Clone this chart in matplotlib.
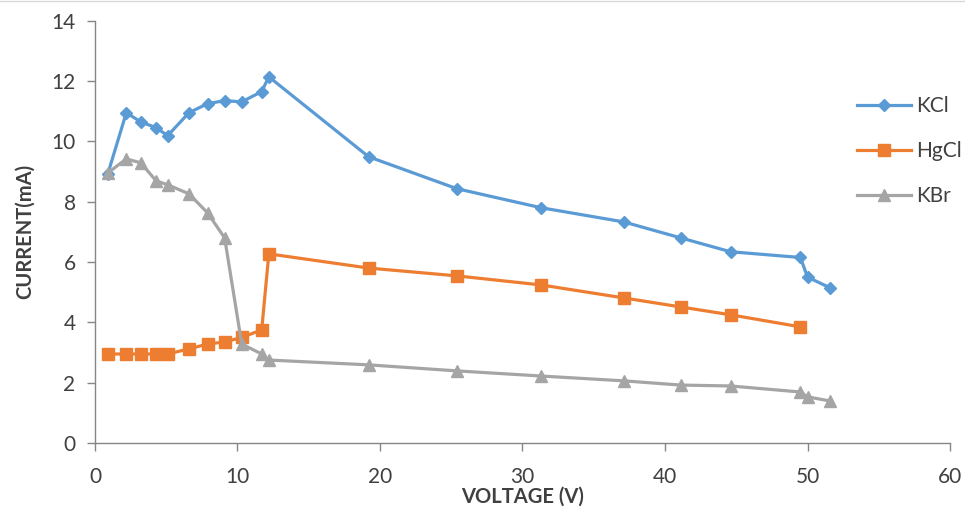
import matplotlib
matplotlib.use("Agg")
import matplotlib.pyplot as plt
from matplotlib.lines import Line2D

voltage = [0.9, 2.2, 3.2, 4.3, 5.1, 6.6, 7.9, 9.1, 10.3, 11.7, 12.2, 19.2, 25.4, 31.3, 37.1, 41.1, 44.6, 49.5, 50.0, 51.6]
kcl = [8.92, 10.95, 10.65, 10.45, 10.19, 10.95, 11.25, 11.35, 11.31, 11.65, 12.14, 9.49, 8.43, 7.80, 7.33, 6.80, 6.34, 6.15, 5.50, 5.14]
hgcl_voltage = voltage[:18]
hgcl = [2.95, 2.95, 2.95, 2.95, 2.95, 3.12, 3.28, 3.35, 3.50, 3.75, 6.27, 5.80, 5.54, 5.24, 4.81, 4.51, 4.25, 3.85]
kbr = [8.95, 9.42, 9.29, 8.69, 8.56, 8.26, 7.63, 6.80, 3.28, 2.95, 2.75, 2.59, 2.39, 2.22, 2.06, 1.92, 1.89, 1.69, 1.53, 1.39]

x_ticks = [0, 10, 20, 30, 40, 50, 60]
y_ticks = [0, 2, 4, 6, 8, 10, 12, 14]

plt.rcParams['font.family'] = ['Lato', 'DejaVu Sans']

fig = plt.figure(figsize=(9.65, 5.13), dpi=100)
ax = fig.add_axes([0.0984, 0.1365, 0.9845 - 0.0984, 0.9596 - 0.1365])

c_kcl = '#5B9BD5'
c_hg = '#ED7D31'
c_kbr = '#A5A5A5'

ax.plot(voltage, kcl, color=c_kcl, lw=2.3, marker='D', ms=6.5, label='KCl', zorder=3)
ax.plot(hgcl_voltage, hgcl, color=c_hg, lw=2.3, marker='s', ms=8, label='HgCl', zorder=3)
ax.plot(voltage, kbr, color=c_kbr, lw=2.3, marker='^', ms=8.5, label='KBr', zorder=3)

ax.set_xlim(0, 60)
ax.set_ylim(0, 14)
ax.set_xticks(x_ticks)
ax.set_yticks(y_ticks)

for s in ['top', 'right']:
    ax.spines[s].set_visible(False)
for s in ['left', 'bottom']:
    ax.spines[s].set_color('#868686')
    ax.spines[s].set_linewidth(1.0)
ax.tick_params(axis='both', colors='#868686', length=6, width=1.0, labelcolor='#404040', labelsize=15)
ax.tick_params(axis='x', pad=11)
ax.tick_params(axis='y', pad=8)

ax.set_xlabel('VOLTAGE (V)', fontsize=14.5, fontweight='bold', color='#404040', labelpad=0)
ax.set_ylabel('CURRENT(mA)', fontsize=14.5, fontweight='bold', color='#404040', labelpad=12)

leg = fig.legend(loc='upper left', bbox_to_anchor=(0.888, 0.812), frameon=False,
                 fontsize=15, handlelength=2.6, labelspacing=1.2, handletextpad=0.25,
                 labelcolor='#404040', borderaxespad=0, borderpad=0)

fig.add_artist(Line2D([0, 1], [0.999, 0.999], transform=fig.transFigure, color='#D9D9D9', lw=1))

fig.savefig('out.png', dpi=100)
